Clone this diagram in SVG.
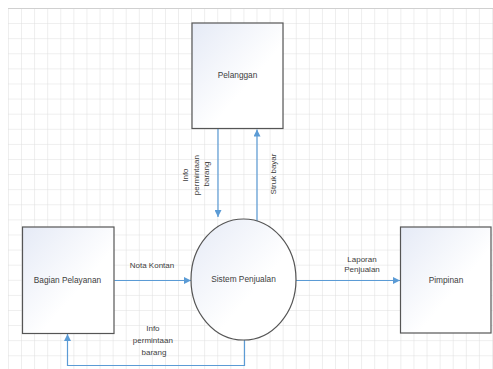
<svg xmlns="http://www.w3.org/2000/svg" width="493" height="369" viewBox="0 0 493 369">
  <defs>
    <pattern id="grid" x="8" y="8" width="13.08" height="15.1" patternUnits="userSpaceOnUse">
      <path d="M0 0 H13.08 M0 0 V15.1" fill="none" stroke="#dedede" stroke-width="1"/>
    </pattern>
    <linearGradient id="shade" x1="0" y1="0" x2="1" y2="1">
      <stop offset="0" stop-color="#e5eaf6"/>
      <stop offset="0.6" stop-color="#ffffff"/>
    </linearGradient>
    <marker id="arrow" markerWidth="7" markerHeight="7" refX="7" refY="3.5" orient="auto" markerUnits="userSpaceOnUse">
      <path d="M0 0 L7 3.5 L0 7 Z" fill="#5b9bd5"/>
    </marker>
  </defs>
  <style>
    .node { fill: url(#shade); stroke: #555; stroke-width: 1.2; }
    .name { font-family: "Liberation Sans", Arial, sans-serif; font-size: 8.3px; fill: #404040; text-anchor: middle; dominant-baseline: middle; }
    .flow { fill: none; stroke: #5b9bd5; stroke-width: 1.2; marker-end: url(#arrow); }
    .label { font-family: "Liberation Sans", Arial, sans-serif; font-size: 8px; fill: #404040; text-anchor: middle; }
  </style>

  <!-- page background and drawing grid -->
  <rect width="493" height="369" fill="#ffffff"/>
  <rect x="8" y="8" width="485" height="361" fill="url(#grid)"/>
  <path d="M8 8.5 H493" stroke="#d0d0d0" stroke-width="1"/>

  <!-- data flows -->
  <g id="connectors">
    <path class="flow" d="M218 128.5 V217"/>
    <path class="flow" d="M257 221 V129.5"/>
    <path class="flow" d="M114.5 280.5 H191"/>
    <path class="flow" d="M296 280.5 H400"/>
    <path class="flow" d="M244.5 340 V365.5 H67.5 V334"/>
    <text class="label" transform="translate(188,174) rotate(-90)">
      <tspan x="0" y="0">Info</tspan>
      <tspan x="0" dy="10.5">permintaan</tspan>
      <tspan x="0" dy="10">barang</tspan>
    </text>
    <text class="label" transform="translate(275.5,174) rotate(-90)">Struk bayar</text>
    <text class="label" x="152" y="268">Nota Kontan</text>
    <text class="label" x="362" y="262">Laporan</text>
    <text class="label" x="362" y="272">Penjualan</text>
    <text class="label">
      <tspan x="154" y="331">Info</tspan>
      <tspan x="154" y="343">permintaan</tspan>
      <tspan x="154" y="355">barang</tspan>
    </text>
  </g>

  <!-- external entities and process -->
  <g id="pelanggan">
    <rect class="node" x="192" y="23" width="91" height="105.5"/>
    <text class="name" x="237.5" y="76">Pelanggan</text>
  </g>
  <g id="bagian-pelayanan">
    <rect class="node" x="22.5" y="227" width="91.5" height="106.5"/>
    <text class="name" x="67.5" y="280.5">Bagian Pelayanan</text>
  </g>
  <g id="pimpinan">
    <rect class="node" x="400.5" y="227" width="90.5" height="106"/>
    <text class="name" x="446" y="280.5">Pimpinan</text>
  </g>
  <g id="sistem-penjualan">
    <ellipse class="node" cx="243.5" cy="279.5" rx="52.5" ry="60.5"/>
    <text class="name" x="243.5" y="280">Sistem Penjualan</text>
  </g>
</svg>
